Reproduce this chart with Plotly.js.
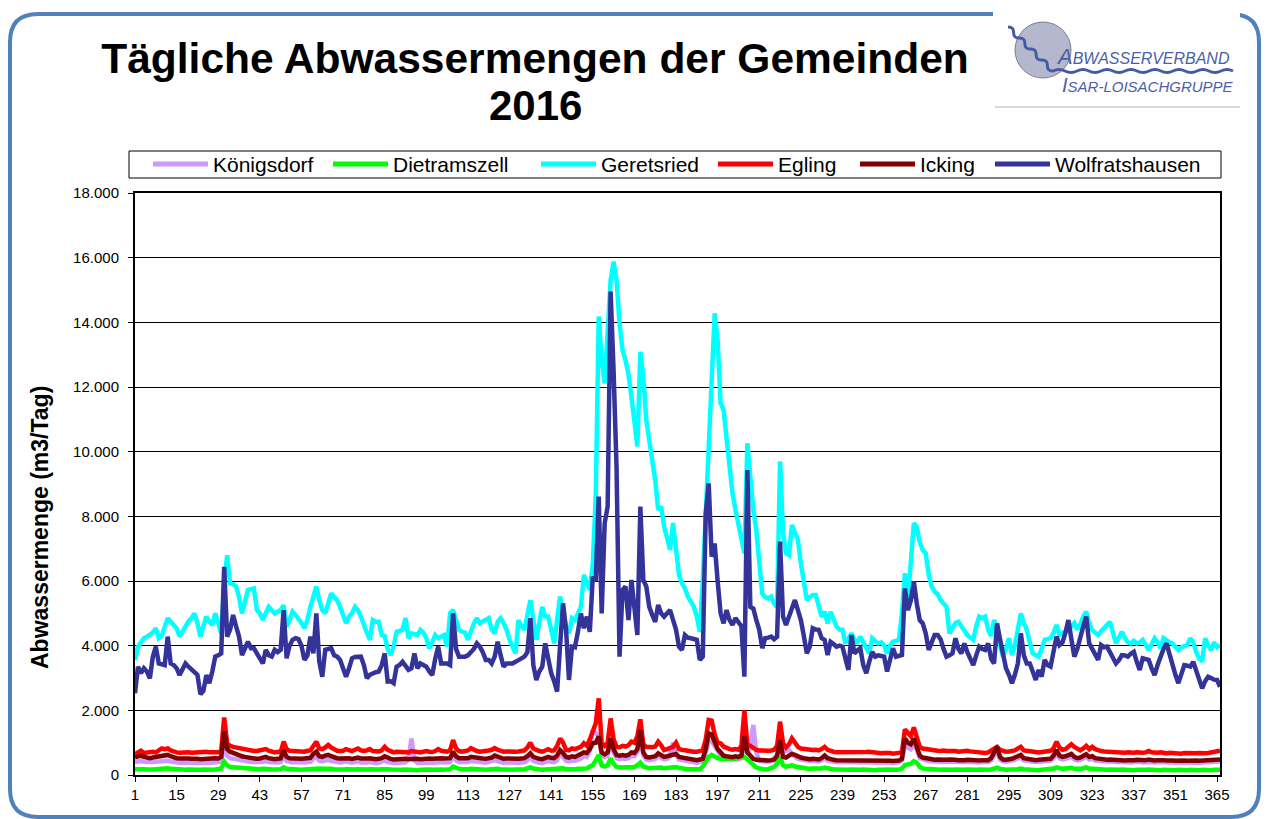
<!DOCTYPE html>
<html>
<head>
<meta charset="utf-8">
<script src="https://cdn.plot.ly/plotly-3.0.1.min.js"></script>
<style>
  body { margin: 0; background: #fff; }
  #chart { width: 1267px; height: 819px; }
</style>
</head>
<body>
<div id="chart"></div>
<script>
// Tage des Jahres 2016 (Schaltjahr)
const tage = Array.from({ length: 366 }, (_, i) => i + 1);
const tickTage = [1, 15, 29, 43, 57, 71, 85, 99, 113, 127, 141, 155, 169, 183, 197,
  211, 225, 239, 253, 267, 281, 295, 309, 323, 337, 351, 365];

const namen = ['Königsdorf', 'Dietramszell', 'Geretsried', 'Egling', 'Icking', 'Wolfratshausen'];

// Abwassermengen in m3/Tag
const koenigsdorf = [
  400, 420, 430, 410, 400, 390, 400, 410, 420, 440,
  450, 440, 420, 400, 390, 380, 390, 380, 390, 380,
  380, 370, 380, 390, 380, 390, 380, 390, 400, 420,
  950, 600, 520, 500, 480, 460, 440, 430, 420, 410,
  400, 390, 400, 410, 430, 400, 390, 380, 390, 400,
  600, 430, 400, 390, 400, 390, 380, 390, 400, 410,
  500, 560, 440, 420, 450, 470, 440, 420, 400, 390,
  400, 420, 400, 380, 400, 420, 390, 380, 390, 400,
  380, 370, 380, 400, 450, 400, 380, 370, 380, 390,
  380, 390, 500, 1130, 450, 380, 370, 380, 400, 390,
  380, 390, 420, 400, 390, 380, 400, 600, 450, 400,
  390, 380, 400, 440, 420, 400, 380, 390, 380, 400,
  420, 460, 430, 400, 380, 390, 380, 400, 390, 380,
  390, 400, 450, 550, 440, 400, 380, 370, 400, 430,
  410, 400, 460, 650, 550, 440, 420, 450, 440, 470,
  500, 600, 560, 750, 1400, 1300, 1200, 600, 550, 600,
  1000, 700, 520, 500, 520, 500, 520, 600, 580, 700,
  1100, 600, 480, 460, 480, 500, 580, 540, 480, 500,
  600, 1000, 650, 480, 460, 440, 420, 400, 390, 380,
  400, 420, 700, 1000, 1050, 900, 700, 600, 520, 500,
  480, 470, 500, 480, 520, 1000, 650, 900, 1550, 700,
  450, 420, 410, 420, 430, 450, 550, 900, 700, 760,
  780, 650, 560, 500, 480, 460, 440, 430, 440, 430,
  420, 450, 520, 450, 420, 410, 400, 400, 390, 400,
  390, 400, 390, 380, 400, 390, 400, 410, 400, 390,
  380, 390, 400, 390, 380, 370, 380, 390, 450, 900,
  850, 800, 950, 780, 520, 470, 450, 430, 420, 410,
  420, 410, 400, 410, 420, 400, 410, 400, 390, 400,
  410, 400, 390, 380, 390, 400, 390, 400, 450, 600,
  750, 480, 420, 410, 420, 440, 470, 520, 540, 450,
  430, 420, 410, 400, 410, 420, 410, 420, 440, 520,
  650, 520, 480, 500, 540, 560, 480, 450, 470, 500,
  560, 480, 500, 450, 440, 430, 420, 410, 420, 410,
  400, 410, 400, 390, 400, 390, 400, 410, 400, 390,
  400, 420, 400, 390, 400, 410, 400, 390, 400, 390,
  380, 390, 400, 390, 380, 390, 400, 390, 380, 390,
  390, 400, 390, 400, 410, 420
];

const dietramszell = [
  180, 190, 200, 180, 170, 160, 170, 180, 190, 200,
  200, 210, 190, 180, 170, 160, 170, 160, 170, 160,
  160, 150, 160, 170, 160, 170, 160, 170, 180, 200,
  410, 300, 250, 240, 235, 220, 210, 200, 190, 180,
  180, 170, 180, 190, 200, 180, 170, 160, 170, 180,
  235, 190, 180, 170, 180, 170, 160, 170, 180, 190,
  210, 220, 200, 190, 200, 210, 190, 180, 170, 170,
  170, 180, 170, 160, 170, 180, 170, 160, 170, 180,
  170, 160, 170, 180, 190, 180, 170, 160, 170, 160,
  160, 170, 160, 170, 160, 150, 160, 170, 180, 170,
  160, 170, 180, 170, 160, 170, 180, 260, 220, 190,
  180, 170, 180, 190, 180, 170, 160, 170, 160, 170,
  180, 200, 190, 180, 170, 160, 170, 160, 170, 160,
  170, 180, 200, 235, 200, 180, 170, 160, 170, 180,
  170, 180, 200, 230, 210, 180, 170, 180, 180, 190,
  200, 210, 200, 260, 300, 450, 620, 300, 260, 300,
  515, 350, 250, 230, 240, 230, 240, 260, 250, 300,
  380, 260, 220, 210, 220, 230, 250, 230, 210, 220,
  230, 240, 250, 220, 200, 190, 180, 180, 170, 170,
  180, 260, 400, 560, 620, 550, 520, 500, 500, 480,
  500, 520, 500, 540, 550, 560, 480, 400, 300, 230,
  200, 180, 170, 180, 200, 250, 350, 550, 300, 250,
  280, 300, 260, 240, 220, 210, 200, 190, 200, 190,
  180, 200, 230, 200, 180, 170, 170, 160, 170, 160,
  160, 170, 160, 150, 160, 170, 160, 170, 160, 150,
  160, 150, 160, 170, 160, 150, 160, 170, 200, 310,
  320, 350, 430, 380, 250, 200, 190, 180, 170, 170,
  170, 160, 170, 160, 170, 160, 170, 160, 150, 160,
  170, 160, 150, 160, 170, 160, 150, 160, 170, 200,
  230, 190, 170, 160, 170, 160, 170, 180, 200, 180,
  170, 160, 170, 160, 150, 160, 170, 160, 170, 200,
  235, 200, 190, 200, 210, 220, 190, 180, 190, 210,
  235, 200, 190, 180, 170, 160, 170, 160, 170, 160,
  150, 160, 170, 160, 150, 160, 150, 160, 150, 160,
  160, 170, 160, 150, 160, 150, 160, 150, 160, 150,
  150, 160, 150, 160, 150, 160, 150, 160, 150, 160,
  150, 160, 150, 160, 150, 160
];

const geretsried = [
  3560, 3970, 4100, 4230, 4280, 4330, 4400, 4540, 4230, 4300,
  4600, 4850, 4740, 4650, 4540, 4280, 4450, 4640, 4750, 4850,
  5000, 4700, 4280, 4600, 4900, 4750, 4640, 5000, 4700, 4380,
  5900, 6800, 5930, 5900, 5830, 5500, 5000, 5400, 5720, 5750,
  5770, 5100, 5000, 4800, 5000, 5200, 5100, 5000, 5050, 5100,
  5250, 4590, 4800, 5050, 4950, 4850, 4700, 4540, 4800, 5200,
  5500, 5830, 5400, 5100, 5000, 5300, 5620, 5500, 5410, 5200,
  4950, 4700, 4900, 5000, 5200, 5100, 4900, 4600, 4400, 4180,
  4790, 4740, 4740, 4330, 4300, 3900, 3710, 3970, 4430, 4460,
  4490, 4850, 4230, 4380, 4350, 4330, 4490, 4400, 4230, 3920,
  4100, 4330, 4230, 4280, 4330, 3970, 5000, 5100, 4800, 4490,
  4430, 4400, 4180, 4450, 4690, 4850, 4690, 4750, 4800, 4850,
  4500, 4380, 4740, 4850, 4700, 4490, 4180, 4000, 3760, 4790,
  4600, 4490, 4900, 5410, 4800, 4180, 4700, 5200, 4900, 4900,
  4500, 4070, 4800, 5520, 5000, 4600, 4380, 4850, 4790, 5000,
  5200, 6190, 5900, 5720, 6540, 8610, 14180, 12800, 12110, 14000,
  15300, 15880, 15310, 13970, 13150, 12830, 12400, 11700, 11000, 10160,
  13090, 12320, 10980, 10400, 9700, 9120, 8200, 8300, 7680, 7300,
  6960, 7790, 7060, 6200, 5930, 5770, 5520, 5350, 5200, 4900,
  4430, 6000, 8000, 9950, 11910, 14280, 13450, 11500, 11290, 10400,
  9640, 8710, 8200, 7790, 7300, 6860, 10260, 9000, 8200, 7580,
  6540, 5620, 5500, 5460, 5520, 5300, 5200, 9700, 7500, 6860,
  6800, 7730, 7500, 7270, 6550, 6000, 5410, 5500, 5570, 5570,
  5200, 4900, 5050, 4690, 5050, 4800, 4590, 4500, 4490, 4070,
  4250, 4380, 4200, 4070, 4280, 4100, 3900, 3760, 4230, 4150,
  4070, 4100, 4020, 3760, 4000, 4120, 4150, 4180, 5000, 6240,
  5410, 6500, 7790, 7680, 7200, 6960, 6860, 6200, 5830, 5670,
  5600, 5410, 5300, 5200, 4380, 4540, 4700, 4740, 4600, 4490,
  4330, 4250, 4180, 4600, 4900, 4850, 4900, 4500, 4300, 4800,
  4490, 4000, 3660, 3900, 4230, 3710, 4000, 4500, 5000, 4700,
  4490, 4100, 3760, 3700, 3660, 3900, 4180, 4200, 4230, 4400,
  4640, 4330, 4400, 4450, 4490, 4600, 4700, 4500, 4650, 4900,
  5050, 4700, 4490, 4400, 4330, 4450, 4540, 4650, 4740, 4400,
  4070, 4250, 4430, 4250, 4100, 4070, 4150, 4070, 4100, 4180,
  4000, 3870, 4050, 4230, 4100, 3920, 4230, 4150, 4100, 4070,
  3950, 3870, 3950, 4000, 4020, 4230, 4100, 3800, 3600, 3510,
  4230, 4000, 3870, 4100, 3950, 4020
];

const egling = [
  650, 700, 750, 680, 700, 690, 720, 700, 780, 820,
  800, 820, 760, 720, 700, 690, 700, 680, 700, 690,
  700, 680, 690, 700, 720, 700, 710, 720, 700, 750,
  1780, 980, 900, 870, 850, 820, 800, 780, 760, 750,
  740, 740, 750, 760, 800, 750, 720, 700, 720, 700,
  1030, 800, 750, 740, 750, 730, 740, 720, 750, 760,
  900, 1030, 820, 800, 850, 930, 850, 780, 750, 740,
  750, 800, 760, 740, 780, 820, 760, 740, 760, 800,
  740, 720, 730, 760, 870, 780, 720, 700, 720, 710,
  700, 720, 700, 740, 720, 710, 700, 720, 740, 720,
  710, 740, 800, 750, 730, 720, 760, 1080, 820, 740,
  720, 730, 760, 830, 780, 740, 720, 730, 720, 760,
  780, 830, 780, 740, 720, 730, 720, 740, 720, 730,
  740, 760, 850, 1000, 820, 760, 740, 720, 760, 800,
  750, 760, 900, 1130, 1000, 780, 760, 820, 800, 820,
  870, 980, 900, 1100, 1340, 1600, 2370, 980, 900, 1000,
  1750, 1100, 870, 860, 900, 880, 920, 1030, 1000, 1200,
  1720, 950, 870, 850, 860, 880, 1030, 920, 770, 800,
  820, 870, 1000, 800, 780, 760, 740, 720, 720, 720,
  730, 760, 1100, 1700, 1680, 1250, 1000, 980, 880, 820,
  800, 780, 800, 780, 900, 2000, 930, 900, 820, 780,
  760, 750, 740, 750, 760, 780, 900, 1650, 980, 850,
  950, 1130, 1000, 870, 820, 800, 780, 770, 770, 780,
  760, 800, 870, 780, 740, 720, 700, 700, 690, 700,
  680, 690, 700, 680, 690, 700, 710, 720, 700, 690,
  680, 670, 680, 690, 680, 660, 670, 680, 700, 1410,
  1300, 1200, 1470, 1100, 870, 820, 800, 780, 760, 750,
  750, 740, 760, 740, 750, 760, 740, 720, 740, 730,
  750, 730, 720, 700, 680, 690, 680, 700, 750, 800,
  870, 780, 740, 720, 730, 740, 760, 820, 870, 760,
  740, 730, 720, 710, 700, 710, 720, 730, 750, 820,
  1030, 850, 780, 800, 900, 950, 870, 800, 760, 820,
  900, 800, 870, 800, 760, 740, 730, 720, 710, 720,
  700, 710, 700, 690, 700, 680, 690, 700, 680, 690,
  700, 740, 700, 680, 690, 700, 680, 670, 690, 680,
  670, 680, 660, 680, 670, 690, 680, 670, 680, 660,
  670, 680, 690, 700, 720, 750
];

const icking = [
  550, 580, 600, 560, 540, 520, 540, 560, 580, 600,
  610, 620, 580, 540, 520, 510, 520, 500, 510, 500,
  510, 500, 490, 500, 510, 500, 510, 520, 510, 560,
  1340, 800, 720, 680, 640, 600, 580, 560, 540, 520,
  510, 500, 510, 520, 560, 520, 500, 490, 500, 510,
  770, 560, 520, 510, 520, 510, 500, 510, 520, 530,
  650, 720, 580, 560, 600, 620, 580, 540, 520, 510,
  520, 540, 520, 500, 520, 540, 510, 500, 510, 520,
  500, 490, 500, 520, 580, 530, 500, 480, 490, 500,
  490, 500, 490, 500, 510, 500, 490, 500, 520, 510,
  500, 510, 540, 520, 510, 500, 520, 720, 580, 520,
  510, 500, 520, 560, 540, 520, 500, 510, 500, 520,
  540, 600, 560, 520, 500, 510, 500, 520, 510, 500,
  510, 520, 580, 670, 560, 520, 500, 490, 520, 560,
  530, 520, 600, 770, 680, 560, 540, 580, 560, 600,
  640, 700, 680, 800, 980, 1000, 1190, 700, 640, 700,
  1130, 800, 620, 600, 620, 600, 620, 700, 680, 800,
  1390, 700, 560, 540, 560, 580, 670, 620, 560, 580,
  600, 620, 650, 560, 540, 520, 500, 480, 470, 460,
  480, 500, 800, 1290, 1250, 1050, 800, 700, 600, 580,
  560, 550, 580, 560, 600, 1200, 700, 580, 500, 470,
  460, 450, 440, 450, 460, 480, 600, 1080, 560, 540,
  600, 650, 620, 560, 540, 520, 500, 490, 500, 490,
  480, 520, 600, 520, 480, 470, 460, 460, 450, 460,
  450, 460, 450, 440, 460, 450, 460, 470, 460, 450,
  440, 450, 460, 450, 440, 430, 440, 450, 500, 1130,
  1000, 950, 1130, 900, 600, 540, 520, 500, 480, 470,
  480, 470, 460, 470, 480, 460, 470, 460, 450, 460,
  470, 460, 450, 440, 450, 460, 450, 460, 520, 700,
  870, 560, 480, 470, 480, 500, 540, 600, 620, 520,
  500, 480, 470, 460, 470, 480, 470, 480, 500, 600,
  770, 600, 560, 580, 620, 650, 560, 520, 540, 580,
  640, 560, 580, 520, 500, 490, 480, 470, 480, 470,
  460, 470, 460, 450, 460, 450, 460, 470, 460, 450,
  460, 480, 460, 450, 460, 470, 460, 450, 460, 450,
  440, 450, 460, 450, 440, 450, 460, 450, 440, 450,
  450, 460, 450, 460, 470, 480
];

const wolfratshausen = [
  2530, 3350, 3150, 3300, 3200, 2990, 3660, 3970, 3450, 3420,
  3400, 4280, 3450, 3400, 3300, 3090, 3250, 3450, 3350, 3250,
  3200, 3100, 2500, 2600, 3090, 2840, 3200, 3660, 3700, 3760,
  6440, 4280, 4500, 4950, 4600, 4280, 3710, 3900, 4120, 3920,
  3920, 3760, 3600, 3450, 3870, 3700, 3660, 3870, 3800, 3870,
  5100, 3610, 4000, 4180, 4230, 4200, 4000, 3560, 3700, 4280,
  3760, 5000, 3500, 3040, 3870, 3900, 3920, 3700, 3660, 3560,
  3250, 3040, 3300, 3610, 3650, 3660, 3660, 3400, 2990, 3100,
  3150, 3180, 3200, 3400, 3760, 2890, 2900, 2840, 3350, 3400,
  3500, 3400, 3250, 3300, 3760, 3300, 3450, 3400, 3350, 3200,
  3090, 3600, 3970, 3450, 3450, 3450, 3400, 5000, 3900, 3660,
  3660, 3660, 3700, 3810, 3900, 4070, 3970, 3800, 3560, 3560,
  3450, 3660, 4120, 3700, 3350, 3450, 3450, 3450, 3500, 3560,
  3600, 3660, 3800, 4850, 3400, 2940, 3200, 3350, 4070, 3600,
  3150, 2900, 2580, 4000, 5310, 4500, 2940, 3970, 3950, 4430,
  5000, 4540, 4900, 4430, 6130, 6000, 8610, 5000, 7790, 8300,
  14950, 12500, 9500, 3660, 5720, 5830, 4790, 6030, 5000, 4330,
  8300, 6030, 5830, 5200, 4950, 4740, 5260, 5000, 4900, 5000,
  5100, 4800, 4500, 3970, 3870, 4330, 4250, 4230, 4200, 4180,
  3560, 3660, 8090, 9020, 6750, 7160, 6000, 5000, 4690, 5100,
  4800, 4640, 4850, 4700, 4600, 3040, 9430, 5200, 5150, 4800,
  4490, 3920, 4230, 4250, 4280, 4200, 4280, 7220, 4900, 4640,
  4900, 5200, 5410, 5100, 4790, 4300, 3760, 3970, 4540, 4500,
  4490, 4230, 4180, 3710, 4120, 4050, 3970, 4000, 3970, 3600,
  3250, 4330, 3760, 3850, 3920, 3400, 3150, 3500, 3810, 3660,
  3700, 3680, 3660, 3200, 3600, 3920, 3660, 3700, 3710, 5770,
  5100, 5400, 5980, 5300, 4790, 4690, 4380, 3870, 4100, 4330,
  4330, 4200, 3900, 3660, 3700, 3760, 4230, 3900, 3760, 4070,
  3800, 3600, 3400, 3700, 3970, 3900, 3870, 4070, 3600, 3450,
  4690, 4200, 3660, 3300, 3100, 2840, 3100, 3450, 4380, 3700,
  3450, 3450, 3200, 2940, 3250, 3040, 3560, 3400, 3350, 3800,
  4280, 4020, 4100, 4400, 4790, 4200, 3660, 3900, 4300, 4600,
  4900, 4070, 3900, 3700, 3560, 4020, 3950, 3970, 3800, 3600,
  3450, 3550, 3710, 3700, 3660, 3750, 3810, 3500, 3250, 3610,
  3580, 3560, 3300, 3090, 3400, 3700, 3900, 4070, 3700, 3350,
  3100, 2840, 3100, 3400, 3380, 3350, 3500, 3200, 2900, 2680,
  2900, 3040, 3000, 2950, 2940, 2730
];

const reihen = [koenigsdorf, dietramszell, geretsried, egling, icking, wolfratshausen];
const farben = ['#cc99ff', '#00ff00', '#00ffff', '#ff0000', '#800000', '#333399'];

const data = reihen.map((werte, i) => ({
  x: tage,
  y: werte,
  name: namen[i],
  type: 'scatter',
  mode: 'lines',
  line: { color: farben[i], width: 4.5 },
  hovertemplate: '%{y:,.0f} m3<extra>' + namen[i] + '</extra>'
}));

// Pixel -> paper (Plotfläche 135..1220 x 193..775)
const px = x => (x - 135) / 1085;
const py = y => (775 - y) / 582;
const P = (x, y) => px(x).toFixed(5) + ',' + py(y).toFixed(5);

// Rahmen mit runden Ecken
const rahmen = 'M' + P(38, 14) + ' L' + P(1231, 14) + ' Q' + P(1259, 14) + ' ' + P(1259, 42) +
  ' L' + P(1259, 789) + ' Q' + P(1259, 817) + ' ' + P(1231, 817) +
  ' L' + P(38, 817) + ' Q' + P(10, 817) + ' ' + P(10, 789) +
  ' L' + P(10, 42) + ' Q' + P(10, 14) + ' ' + P(38, 14) + ' Z';

// Welle im Logo
let welle = 'M' + P(1008, 27);
for (let i = 1; i <= 8; i++) {
  const x0 = 1008 + 45 * (i - 1) / 8, y0 = 27 + 44 * (i - 1) / 8;
  const x1 = 1008 + 45 * i / 8, y1 = 27 + 44 * i / 8;
  const s = i % 2 ? 3 : -3;
  welle += ' Q' + P((x0 + x1) / 2 + s, (y0 + y1) / 2 - s) + ' ' + P(x1, y1);
}
for (let x = 1053, k = 0; x < 1232; x += 12, k++) {
  welle += ' Q' + P(x + 6, 71 + (k % 2 ? 3 : -3)) + ' ' + P(x + 12, 71);
}

const shapes = [
  { type: 'path', xref: 'paper', yref: 'paper', path: rahmen, line: { color: '#4f81bd', width: 4 } },
  // Logo
  { type: 'rect', xref: 'paper', yref: 'paper', x0: px(993), x1: px(1240), y0: py(4), y1: py(104),
    fillcolor: '#ffffff', line: { width: 0 } },
  { type: 'line', xref: 'paper', yref: 'paper', x0: px(995), x1: px(1240), y0: py(107), y1: py(107),
    line: { color: '#d9d9d9', width: 2 } },
  { type: 'circle', xref: 'paper', yref: 'paper', x0: px(1015), x1: px(1071), y0: py(22), y1: py(78),
    fillcolor: '#b5b7cc', line: { color: '#7c7c92', width: 1 } },
  { type: 'path', xref: 'paper', yref: 'paper', path: welle, line: { color: '#4659a6', width: 3 } },
  // Legendenrahmen
  { type: 'rect', xref: 'paper', yref: 'paper', x0: px(129), x1: px(1221), y0: py(151), y1: py(178),
    line: { color: '#000000', width: 1 }, fillcolor: 'rgba(0,0,0,0)' }
];

const legX = [153, 333, 541, 718, 860, 995];
const annotations = [
  { xref: 'paper', yref: 'paper', x: px(535), y: py(105), xanchor: 'center', yanchor: 'middle',
    text: '<b>2016</b>', showarrow: false, font: { size: 42, color: '#000' } },
  { xref: 'paper', yref: 'paper', x: px(40), y: py(528), xanchor: 'center', yanchor: 'middle',
    textangle: -90, text: '<b>Abwassermenge (m3/Tag)</b>', showarrow: false,
    font: { size: 23, color: '#000' } },
  { xref: 'paper', yref: 'paper', x: px(1054), y: py(57), xanchor: 'left', yanchor: 'middle',
    text: '<i><span style="font-size:22px">A</span>BWASSERVERBAND</i>', showarrow: false,
    font: { size: 16, color: '#4b5fa6' } },
  { xref: 'paper', yref: 'paper', x: px(1060), y: py(85), xanchor: 'left', yanchor: 'middle',
    text: '<i><span style="font-size:20px">I</span>SAR-LOISACHGRUPPE</i>', showarrow: false,
    font: { size: 15, color: '#4b5fa6' } }
];
namen.forEach((n, i) => {
  shapes.push({ type: 'line', xref: 'paper', yref: 'paper', x0: px(legX[i]), x1: px(legX[i] + 55),
    y0: py(164), y1: py(164), line: { color: farben[i], width: 5 } });
  annotations.push({ xref: 'paper', yref: 'paper', x: px(legX[i] + 58), y: py(165), xanchor: 'left',
    yanchor: 'middle', text: n, showarrow: false, font: { size: 21, color: '#000' } });
});

const layout = {
  width: 1267,
  height: 819,
  margin: { l: 135, r: 47, t: 193, b: 44 },
  paper_bgcolor: '#ffffff',
  plot_bgcolor: '#ffffff',
  separators: ',.',
  showlegend: false,
  font: { family: 'Arial, "Liberation Sans", sans-serif', color: '#000' },
  title: {
    text: '<b>Tägliche Abwassermengen der Gemeinden</b>',
    font: { size: 42.5, color: '#000' },
    xref: 'container', yref: 'container',
    x: 535 / 1267, xanchor: 'center',
    y: 1 - 58 / 819, yanchor: 'middle'
  },
  xaxis: {
    range: [1, 366],
    tickvals: tickTage,
    ticks: 'outside', ticklen: 5, tickwidth: 1, tickcolor: '#000',
    showgrid: false, zeroline: false,
    showline: true, linecolor: '#000', linewidth: 2, mirror: true,
    tickfont: { size: 15 }
  },
  yaxis: {
    range: [0, 18000],
    dtick: 2000,
    tickformat: ',d',
    ticks: 'outside', ticklen: 5, tickwidth: 1, tickcolor: '#000',
    ticklabelstandoff: 6,
    showgrid: true, gridcolor: '#000', gridwidth: 1,
    zeroline: false,
    showline: true, linecolor: '#000', linewidth: 2, mirror: true,
    tickfont: { size: 15 }
  },
  shapes: shapes,
  annotations: annotations
};

Plotly.newPlot('chart', data, layout, { displayModeBar: false, responsive: false });
</script>
</body>
</html>
